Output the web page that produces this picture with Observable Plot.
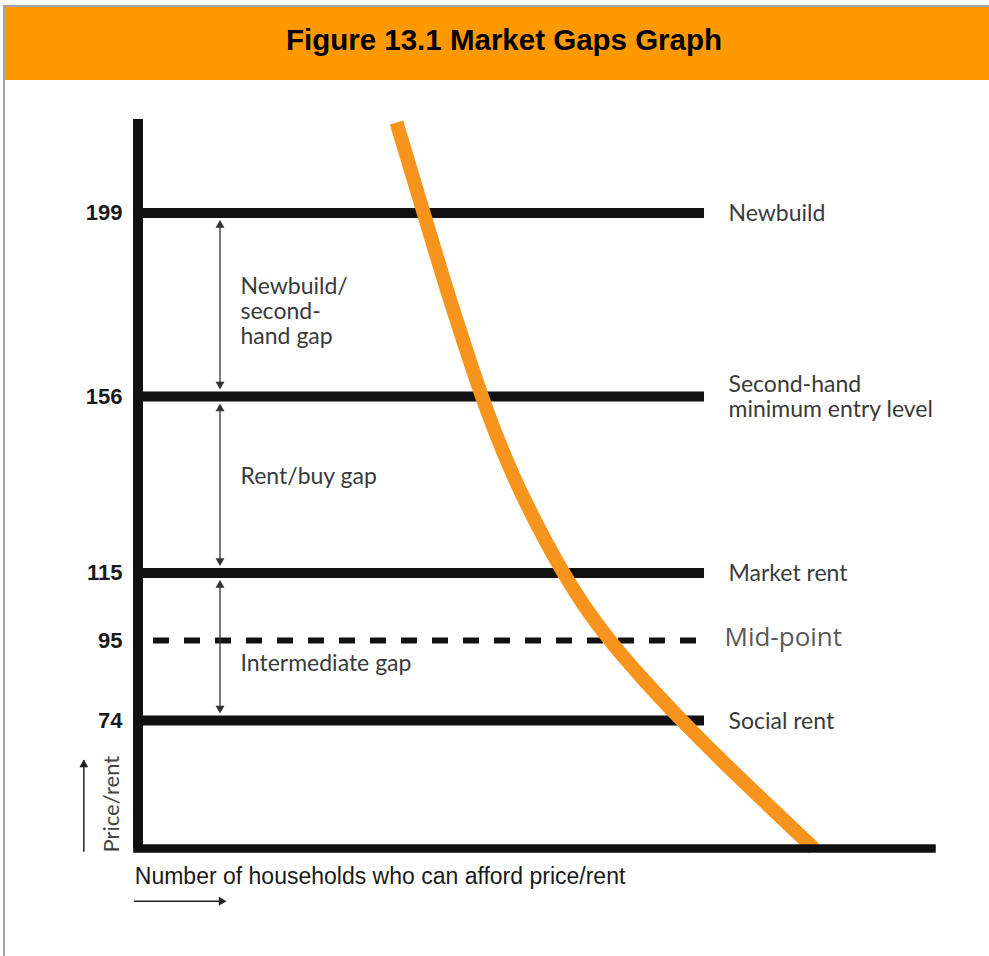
<!DOCTYPE html>
<html>
<head>
<meta charset="utf-8">
<script src="https://cdn.jsdelivr.net/npm/d3@7"></script>
<script src="https://cdn.jsdelivr.net/npm/@observablehq/plot@0.6"></script>
<style>
  body { margin: 0; background: #fff; }
  #wrap { position: relative; width: 989px; height: 956px; overflow: hidden; background: #fff; }
  #topline { position: absolute; left: 3px; top: 5px; width: 986px; height: 2px; background: #a3a3a3; }
  #leftline { position: absolute; left: 3px; top: 5px; width: 2px; height: 951px; background: #a3a3a3; }
  #header { position: absolute; left: 5px; top: 7px; width: 970px; padding-left: 14px; height: 73px; background: #FF9900;
            font: bold 29.5px "Liberation Sans", Arial, sans-serif; color: #000; text-align: center; line-height: 66px; }
  #chart { position: absolute; left: 0; top: 80px; }
</style>
</head>
<body>
<div id="wrap">
  <div id="topline"></div>
  <div id="header"></div>
  <div id="leftline"></div>
  <div id="chart"></div>
</div>
<script>
// ---- data ----
const title = "Figure 13.1 Market Gaps Graph";
const priceTicks = [199, 156, 115, 95, 74];
const marketLevels = [199, 156, 115, 74];
const marketLabels = ["Newbuild", "Second-hand\nminimum entry level", "Market rent", "Social rent"];
const midLevels = [95];
const midLabels = ["Mid-point"];
const gapUpper = [199, 156, 115];
const gapLower = [156, 115, 74];
const gapLabels = ["Newbuild/\nsecond-\nhand gap", "Rent/buy gap", "Intermediate gap"];
const curveHouseholds = [32.56, 35.96, 39.33, 43.32, 45.91, 48.74, 53.62, 56.27, 59.45, 63.78, 68.51, 74.43, 85.14];
const curvePrice      = [220.3, 199.1, 178.5, 156.0, 143.5, 131.8, 114.9, 105.1, 95.0, 84.5, 74.0, 61.5, 40.0];
const xAxisLabel = "Number of households who can afford price/rent";
const yAxisLabel = "Price/rent";

// ---- tables ----
const levels = marketLevels.map((p, i) => ({price: p, label: marketLabels[i]}));
const mids = midLevels.map((p, i) => ({price: p, label: midLabels[i]}));
const gaps = gapUpper.map((u, i) => ({upper: u, lower: gapLower[i], mid: (u + gapLower[i]) / 2, label: gapLabels[i]}));
const curve = curveHouseholds.map((h, i) => ({households: h, price: curvePrice[i]}));

document.getElementById("header").textContent = title;

// schematic (non-linear) price axis: price -> height above the x axis
const schematic = d3.scaleLinear()
  .domain([40, 74, 95, 115, 156, 199, 221])
  .range([0, 128, 208, 275.5, 452, 635.5, 729]);

const ink = "#111";
const txt = "#3a3a3a";
const lato = "Lato, 'Open Sans', sans-serif";
const arial = "'Liberation Sans', Arial, sans-serif";
const gapX = 10.33;
const lineEnd = 71.35;

const gapText = (i, dy) => Plot.text([gaps[i]], {
  x: gapX, y: "mid", text: "label", dx: 20.5, dy, textAnchor: "start",
  fontSize: 23, fontFamily: lato, fill: txt, lineHeight: 1.09
});

const chart = Plot.plot({
  width: 989,
  height: 876,
  marginLeft: 137.5,
  marginRight: 57.5,
  marginTop: 39,
  marginBottom: 108,
  style: {background: "transparent", overflow: "visible"},
  x: {domain: [0, 100], axis: null},
  y: {transform: schematic, domain: [0, 729], range: [768, 39], axis: null},
  marks: [
    // price level lines
    Plot.ruleY(levels, {y: "price", x1: 0, x2: lineEnd, stroke: ink, strokeWidth: 10}),
    Plot.ruleY(mids, {y: "price", x1: 1.95, x2: 70.6, stroke: ink, strokeWidth: 6, strokeDasharray: "16,15"}),
    // gap arrows
    Plot.ruleX(gaps, {x: gapX, y1: "upper", y2: "lower", insetTop: 9, insetBottom: 9, stroke: "#333", strokeWidth: 1.3}),
    Plot.dot(gaps, {x: gapX, y: "upper", dy: 12.1, symbol: "triangle", r: 3.3, fill: "#333", stroke: "none"}),
    Plot.dot(gaps, {x: gapX, y: "lower", dy: -12.1, rotate: 180, symbol: "triangle", r: 3.3, fill: "#333", stroke: "none"}),
    // affordability curve
    Plot.line(curve, {x: "households", y: "price", curve: "catmull-rom", stroke: "#F7941D", strokeWidth: 14,
                      strokeLinecap: "butt", strokeLinejoin: "round"}),
    // axes
    Plot.ruleX([0], {y1: 221, y2: 40, stroke: ink, strokeWidth: 10}),
    Plot.ruleY([40], {x1: 0, x2: 100, stroke: ink, strokeWidth: 8.5, strokeLinecap: "square"}),
    // direction arrows
    Plot.ruleX([0], {y1: 74, y2: 40, dx: -54.2, insetTop: 40, insetBottom: -3.7, stroke: "#222", strokeWidth: 1.5}),
    Plot.dot([0], {x: 0, y: 74, dx: -54.2, dy: 44.1, symbol: "triangle", r: 3.3, fill: "#222", stroke: "none"}),
    Plot.ruleY([40], {x1: 0, x2: 0, dy: 52.7, insetLeft: -3.5, insetRight: -84.5, stroke: "#222", strokeWidth: 1.5}),
    Plot.dot([0], {x: 0, y: 40, dx: 83.4, dy: 52.7, rotate: 90, symbol: "triangle", r: 3.3, fill: "#222", stroke: "none"}),
    // tick labels
    Plot.text(priceTicks, {x: 0, y: d => d, text: d => String(d), dx: -15.5, textAnchor: "end",
                           fontSize: 22, fontWeight: "bold", fontFamily: arial, fill: "#1a1a1a"}),
    // level labels
    Plot.text(levels, {x: lineEnd, y: "price", text: "label", dx: 24, textAnchor: "start",
                       fontSize: 23, fontFamily: lato, fill: txt, lineHeight: 1.09}),
    Plot.text(mids, {x: lineEnd, y: "price", text: "label", dx: 20, dy: 5, lineAnchor: "bottom", textAnchor: "start",
                     fontSize: 26, fontFamily: "'Open Sans', sans-serif", fill: "#595959"}),
    // gap labels
    gapText(0, 6),
    gapText(1, -9),
    gapText(2, 21),
    // axis labels
    Plot.text([yAxisLabel], {text: d => d, frameAnchor: "bottom-left", rotate: -90, textAnchor: "start", lineAnchor: "bottom",
                             dx: -19.2, dy: 4, fontSize: 22, fontFamily: lato, fill: "#444"}),
    Plot.text([xAxisLabel], {text: d => d, frameAnchor: "bottom-left", textAnchor: "start", lineAnchor: "bottom",
                             dx: -3.2, dy: 35.3, fontSize: 23, fontFamily: arial, fill: "#1a1a1a"})
  ]
});
document.getElementById("chart").appendChild(chart);
</script>
</body>
</html>
